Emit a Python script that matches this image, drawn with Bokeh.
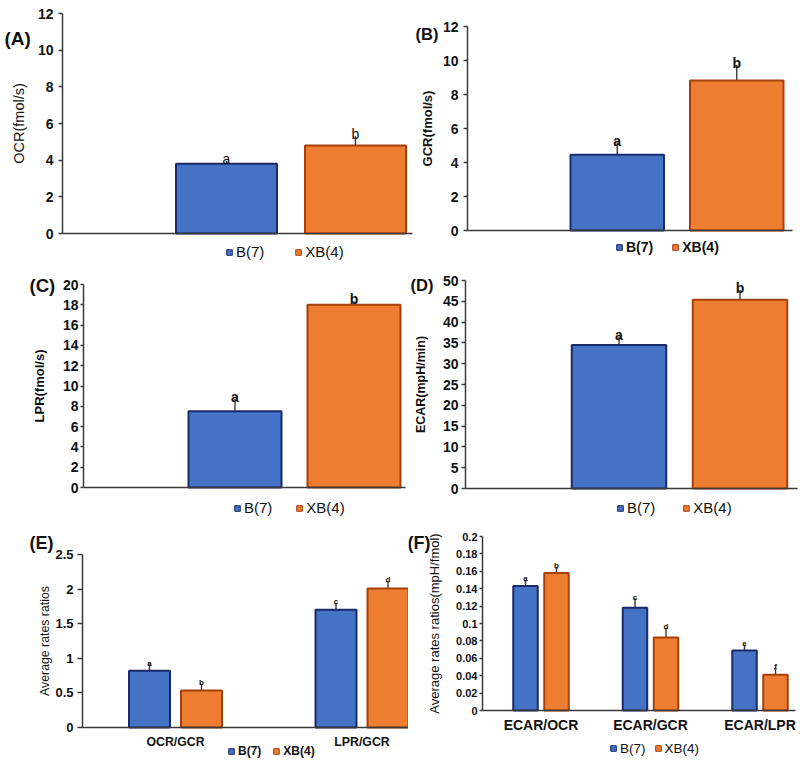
import numpy as np
from bokeh.plotting import figure
from bokeh.layouts import column, row
from bokeh.models import (Range1d, FixedTicker, CustomJSTickFormatter, Whisker, TeeHead,
                          ColumnDataSource, Label, Legend, LegendItem)
from bokeh.core.properties import value
from bokeh.embed import file_html
from bokeh.resources import INLINE

# ---------------- data ----------------
series_names = ["B(7)", "XB(4)"]

ocr_b7 = [3.80]
ocr_xb4 = [4.80]
ocr_b7_err = [0.15]
ocr_xb4_err = [0.50]
ocr_b7_sig = ["a"]
ocr_xb4_sig = ["b"]
ocr_yticks = [0, 2, 4, 6, 8, 10, 12]

gcr_b7 = [4.45]
gcr_xb4 = [8.82]
gcr_b7_err = [0.71]
gcr_xb4_err = [0.93]
gcr_b7_sig = ["a"]
gcr_xb4_sig = ["b"]
gcr_yticks = [0, 2, 4, 6, 8, 10, 12]

lpr_b7 = [7.52]
lpr_xb4 = [18.0]
lpr_b7_err = [1.20]
lpr_xb4_err = [0.35]
lpr_b7_sig = ["a"]
lpr_xb4_sig = ["b"]
lpr_yticks = [0, 2, 4, 6, 8, 10, 12, 14, 16, 18, 20]

ecar_b7 = [34.5]
ecar_xb4 = [45.4]
ecar_b7_err = [2.0]
ecar_xb4_err = [2.3]
ecar_b7_sig = ["a"]
ecar_xb4_sig = ["b"]
ecar_yticks = [0, 5, 10, 15, 20, 25, 30, 35, 40, 45, 50]

ratio1_cats = ["OCR/GCR", "LPR/GCR"]
ratio1_b7 = [0.82, 1.70]
ratio1_xb4 = [0.535, 2.01]
ratio1_b7_err = [0.08, 0.09]
ratio1_xb4_err = [0.09, 0.10]
ratio1_b7_sig = ["a", "c"]
ratio1_xb4_sig = ["b", "d"]
ratio1_yticks = [0, 0.5, 1, 1.5, 2, 2.5]
ratio1_ytick_labels = ["0", "0.5", "1", "1.5", "2", "2.5"]

ratio2_cats = ["ECAR/OCR", "ECAR/GCR", "ECAR/LPR"]
ratio2_b7 = [0.143, 0.118, 0.069]
ratio2_xb4 = [0.158, 0.084, 0.041]
ratio2_b7_err = [0.006, 0.010, 0.006]
ratio2_xb4_err = [0.006, 0.010, 0.007]
ratio2_b7_sig = ["a", "c", "e"]
ratio2_xb4_sig = ["b", "d", "f"]
ratio2_yticks = [0, 0.02, 0.04, 0.06, 0.08, 0.1, 0.12, 0.14, 0.16, 0.18, 0.2]
ratio2_ytick_labels = ["0", "0.02", "0.04", "0.06", "0.08", "0.1", "0.12", "0.14",
                       "0.16", "0.18", "0.2"]

# ---------------- style ----------------
FONT = "Liberation Sans"
BLUE, BLUE_EDGE = "#4472C4", "#1B2A6B"
ORANGE, ORANGE_EDGE = "#ED7D31", "#A6410D"
ERR = "#3a3a3a"
AXIS = "#3a3a3a"
TXT = "#111111"


def fs(v):
    return f"{v:.1f}px"


CW_REG = {"B": .667, "(": .333, ")": .333, "7": .556, "4": .556, "X": .667}
CW_BOLD = {"B": .722, "(": .333, ")": .333, "7": .556, "4": .556, "X": .667}


def text_w(s, size, bold):
    t = CW_BOLD if bold else CW_REG
    return sum(t.get(c, .6) for c in s) * size

FMT_CODE = """
for (let i = 0; i < lb.length; i++) {
  if (Math.abs(tk[i] - tick) < 1e-9) { return lb[i]; }
}
return "";
"""


def make_panel(cfg):
    cx0, cy0, cw, ch = cfg["cell"]
    L, R, T, B = cfg["frame"]
    unit, c0 = cfg["unit"], cfg["c0"]
    yticks = cfg["yticks"]
    ytop = yticks[-1]
    ylabels = cfg.get("ytick_labels", [str(t) for t in yticks])
    ppu = (B - T) / ytop          # pixels per y unit
    x_axis_at = (L - c0) / unit   # data x of the y axis
    x_end_at = (R - c0) / unit

    p = figure(width=cw, height=ch, title=None,
               x_range=Range1d((cx0 - c0) / unit, (cx0 + cw - c0) / unit),
               y_range=Range1d(-(cy0 + ch - B) / ppu, ytop + (T - cy0) / ppu),
               output_backend="svg", toolbar_location=None,
               min_border_left=0, min_border_right=0,
               min_border_top=0, min_border_bottom=0)
    p.outline_line_color = None
    p.xgrid.visible = False
    p.ygrid.visible = False
    p.background_fill_color = "white"
    p.border_fill_color = "white"

    # bars
    cats = cfg.get("cats", [""])
    n = len(cats)
    step = cfg["step"] / unit
    bw = cfg["bw"] / unit
    colors = [(BLUE, BLUE_EDGE), (ORANGE, ORANGE_EDGE)]
    for i, (vals, errs, sig) in enumerate(cfg["series"]):
        xs = [k + (i - 0.5) * step for k in range(n)]
        up = [v + e for v, e in zip(vals, errs)]
        lo = [v - e for v, e in zip(vals, errs)] if cfg["both"] else list(vals)
        src = ColumnDataSource(dict(x=xs, top=vals, up=up, lo=lo, sig=sig))
        fc, lc = colors[i]
        p.vbar(x="x", top="top", bottom=0, width=bw, source=src,
               fill_color=fc, line_color=lc, line_width=2)
        if cfg["cap"] > 0:
            uh = TeeHead(size=cfg["cap"], line_color=ERR, line_width=1.2)
            lh_ = TeeHead(size=cfg["cap"], line_color=ERR, line_width=1.2)
        else:
            uh, lh_ = None, None
        p.add_layout(Whisker(source=src, base="x", upper="up", lower="lo",
                             dimension="height", line_color=ERR, line_width=1.4,
                             upper_head=uh, lower_head=lh_ if cfg["both"] else None))
        p.text(x="x", y="up", text="sig", source=src, text_align="center",
               text_baseline="alphabetic", y_offset=cfg["sig_dy"],
               text_font=value(FONT), text_font_size=fs(cfg["sig_size"]),
               text_font_style=cfg["sig_style"], text_color=TXT)

    # y axis (fixed at the left edge of the drawing area)
    ya = p.yaxis[0]
    ya.fixed_location = x_axis_at
    ya.bounds = (0, ytop)
    ya.ticker = FixedTicker(ticks=yticks)
    ya.formatter = CustomJSTickFormatter(args=dict(tk=yticks, lb=ylabels), code=FMT_CODE)
    ya.minor_tick_line_color = None
    ya.major_tick_in = 0
    ya.major_tick_out = cfg["ytick_out"]
    ya.major_label_standoff = cfg["ylab_standoff"]
    ya.major_label_text_font = FONT
    ya.major_label_text_font_size = fs(cfg["ytick_size"])
    ya.major_label_text_font_style = "bold"
    ya.major_label_text_color = TXT
    ya.axis_line_color = AXIS
    ya.axis_line_width = 1.5
    ya.major_tick_line_color = AXIS
    ya.major_tick_line_width = 1.3
    ya.axis_label = cfg["ylabel"]
    ya.axis_label_text_font = FONT
    ya.axis_label_text_font_size = fs(cfg["ylabel_size"])
    ya.axis_label_text_font_style = cfg["ylabel_style"]
    ya.axis_label_text_color = TXT
    ya.axis_label_standoff = cfg["ylabel_standoff"]

    # x axis (fixed at y = 0)
    xa = p.xaxis[0]
    xa.fixed_location = 0
    xa.bounds = (x_axis_at, x_end_at)
    xa.axis_line_color = AXIS
    xa.axis_line_width = 1.5
    xa.major_tick_line_color = None
    xa.minor_tick_line_color = None
    xa.major_tick_in = 0
    xa.major_tick_out = 0
    if "cats" in cfg:
        xa.ticker = FixedTicker(ticks=list(range(n)))
        xa.formatter = CustomJSTickFormatter(
            args=dict(tk=list(range(n)), lb=cats), code=FMT_CODE)
        xa.major_label_text_font = FONT
        xa.major_label_text_font_size = fs(cfg["xlab_size"])
        xa.major_label_text_font_style = "bold"
        xa.major_label_text_color = TXT
        xa.major_label_standoff = cfg["xlab_standoff"]
    else:
        xa.ticker = FixedTicker(ticks=[])
        xa.major_label_text_font_size = "0px"

    # panel tag
    tx, tcy, tsize = cfg["tag"]
    p.add_layout(Label(x=tx - cx0, y=(cy0 + ch) - tcy, x_units="screen", y_units="screen",
                       text=cfg["tag_text"], text_align="left", text_baseline="middle",
                       text_font=FONT, text_font_size=fs(tsize),
                       text_font_style="bold", text_color=TXT))

    # series legend (legend-only square markers, not drawn in the plot)
    rends = []
    for fc, lc in colors:
        proxy = ColumnDataSource(dict(x=np.array([np.nan]), y=np.array([np.nan])))
        rends.append(p.scatter(x="x", y="y", source=proxy, marker="square", fill_color=fc,
                               line_color=lc, line_width=1))
    s1, s2, lcy, lsize, lstyle = cfg["legend"]
    gw, gh = 14, 16
    bold = lstyle == "bold"
    tw1 = text_w(series_names[0], lsize, bold)
    box1 = s1 - gw / 2
    box2 = s2 - gw / 2
    spacing = max(0, round(box2 - (box1 + gw + tw1)))
    lh = max(gh, 1.15 * lsize)
    leg = Legend(items=[LegendItem(label=series_names[i], renderers=[rends[i]]) for i in range(2)],
                 orientation="horizontal",
                 location=(round(box1 - cx0), round((cy0 + ch) - (lcy + lh / 2))),
                 glyph_width=gw, glyph_height=gh, label_height=gh, label_width=10,
                 label_standoff=0, spacing=spacing, padding=0, margin=0,
                 border_line_alpha=0, background_fill_alpha=0,
                 label_text_font=FONT, label_text_font_size=fs(lsize),
                 label_text_font_style=lstyle, label_text_color=TXT)
    p.add_layout(leg)
    return p


panels = [
    dict(cell=(0, 0, 414, 260), frame=(62, 412, 13, 233), unit=100, c0=290.5, bw=101, step=129,
         series=[(ocr_b7, ocr_b7_err, ocr_b7_sig), (ocr_xb4, ocr_xb4_err, ocr_xb4_sig)],
         both=False, cap=0, sig_size=14, sig_style="normal", sig_dy=-2, yticks=ocr_yticks,
         ytick_out=4, ylab_standoff=5, ytick_size=14, ylabel="OCR(fmol/s)", ylabel_size=14.5,
         ylabel_style="normal", ylabel_standoff=8, tag=(4, 38, 19), tag_text="(A)",
         legend=(228.5, 297.5, 251, 15, "normal")),
    dict(cell=(414, 0, 386, 260), frame=(467, 792, 26, 230), unit=100, c0=676.5, bw=93.5, step=119.5,
         series=[(gcr_b7, gcr_b7_err, gcr_b7_sig), (gcr_xb4, gcr_xb4_err, gcr_xb4_sig)],
         both=False, cap=0, sig_size=14, sig_style="bold", sig_dy=-2, yticks=gcr_yticks,
         ytick_out=4, ylab_standoff=5, ytick_size=14, ylabel="GCR(fmol/s)", ylabel_size=13,
         ylabel_style="bold", ylabel_standoff=5, tag=(415, 33, 16.5), tag_text="(B)",
         legend=(619.5, 675.5, 247, 14, "bold")),
    dict(cell=(0, 260, 407, 258), frame=(83, 405, 284, 487), unit=100, c0=294, bw=93, step=119,
         series=[(lpr_b7, lpr_b7_err, lpr_b7_sig), (lpr_xb4, lpr_xb4_err, lpr_xb4_sig)],
         both=False, cap=0, sig_size=14, sig_style="bold", sig_dy=-2, yticks=lpr_yticks,
         ytick_out=3, ylab_standoff=2, ytick_size=14, ylabel="LPR(fmol/s)", ylabel_size=13,
         ylabel_style="bold", ylabel_standoff=13, tag=(29, 285, 18.5), tag_text="(C)",
         legend=(237.5, 299.5, 507, 15, "normal")),
    dict(cell=(407, 260, 393, 258), frame=(465, 797, 280, 488), unit=100, c0=679, bw=94.5, step=121,
         series=[(ecar_b7, ecar_b7_err, ecar_b7_sig), (ecar_xb4, ecar_xb4_err, ecar_xb4_sig)],
         both=False, cap=0, sig_size=14, sig_style="bold", sig_dy=-2, yticks=ecar_yticks,
         ytick_out=4, ylab_standoff=3, ytick_size=14, ylabel="ECAR(mpH/min)", ylabel_size=12.5,
         ylabel_style="bold", ylabel_standoff=12, tag=(410, 284, 16.5), tag_text="(D)",
         legend=(620.5, 687, 507, 15, "normal")),
    dict(cell=(0, 518, 408, 244), frame=(82, 408, 554, 727), unit=186.5, c0=175, bw=41, step=52,
         cats=ratio1_cats,
         series=[(ratio1_b7, ratio1_b7_err, ratio1_b7_sig), (ratio1_xb4, ratio1_xb4_err, ratio1_xb4_sig)],
         both=True, cap=3, sig_size=8, sig_style="bold", sig_dy=-2, yticks=ratio1_yticks,
         ytick_labels=ratio1_ytick_labels,
         ytick_out=5, ylab_standoff=4, ytick_size=13, ylabel="Average rates ratios", ylabel_size=12.3,
         ylabel_style="normal", ylabel_standoff=0, xlab_size=12.3, xlab_standoff=7,
         tag=(29, 542, 18), tag_text="(E)", legend=(230.5, 275.5, 751, 12, "bold")),
    dict(cell=(408, 518, 392, 244), frame=(482, 795, 536, 710), unit=109.5, c0=540.5, bw=24.5, step=31,
         cats=ratio2_cats,
         series=[(ratio2_b7, ratio2_b7_err, ratio2_b7_sig), (ratio2_xb4, ratio2_xb4_err, ratio2_xb4_sig)],
         both=True, cap=3, sig_size=8, sig_style="bold", sig_dy=-2, yticks=ratio2_yticks,
         ytick_labels=ratio2_ytick_labels,
         ytick_out=3, ylab_standoff=2, ytick_size=11, ylabel="Average rates ratios(mpH/fmol)",
         ylabel_size=13, ylabel_style="normal", ylabel_standoff=11, xlab_size=14, xlab_standoff=6,
         tag=(407, 542, 18), tag_text="(F)", legend=(612.5, 657.5, 748, 13.5, "normal")),
]

figs = [make_panel(c) for c in panels]
layout = column(row(figs[0], figs[1]), row(figs[2], figs[3]), row(figs[4], figs[5]))

open("out.html", "w").write(file_html(layout, INLINE))
